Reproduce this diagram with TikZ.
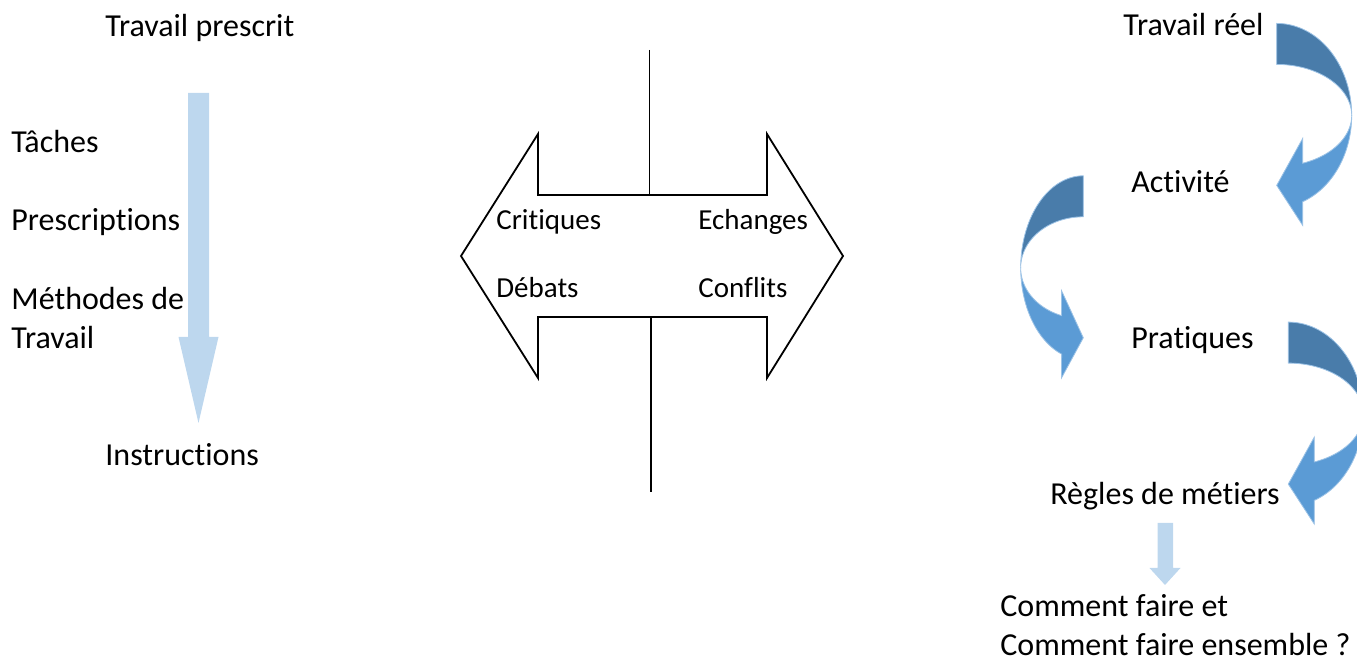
\documentclass[tikz,border=0pt]{standalone}
\usepackage{fontspec}
\setmainfont{Carlito}[Ligatures={NoCommon,NoContextual}]
\definecolor{pale}{HTML}{BDD7EE}
\definecolor{midblue}{HTML}{5B9BD5}
\definecolor{deepblue}{HTML}{497CAA}
% curved block arrow: #1 centre, #2 horizontal scale (negative = mirrored)
\newcommand\bentarrow[2]{%
  \begin{scope}[shift={#1},xscale=#2]
    \fill[deepblue,draw=midblue!60!white,line width=0.4pt] (0,-92)
      -- plot[domain=-90:0,samples=40] ({75*cos(\x)},{92*sin(\x)})
      -- plot[domain=0:-90,samples=40] ({75*cos(\x)},{51*sin(\x)}) -- cycle;
    \fill[midblue,draw=midblue!60!white,line width=0.4pt] (75,0)
      -- plot[domain=0:69.72,samples=40] ({75*cos(\x)},{92*sin(\x)})
      -- (26,110) -- (0,70) -- (26,23) -- (26,47.8)
      -- plot[domain=69.72:0,samples=40] ({75*cos(\x)},{51*sin(\x)}) -- cycle;
  \end{scope}}

\begin{document}
\begin{tikzpicture}[x=0.5pt,y=-0.5pt]
  \tikzset{lbl/.style={anchor=base west,inner sep=0pt,font=\fontsize{16}{19.5}\selectfont},
           sm/.style={anchor=base west,inner sep=0pt,font=\fontsize{14.5}{17}\selectfont}}
  \useasboundingbox (0,0) rectangle (1357,662);
  % prescribed work
  \fill[pale] (188,93) -- (209,93) -- (209,337) -- (218.5,337) -- (198.5,423)
    -- (178.5,337) -- (188,337) -- cycle;
  \node[lbl] (tp) at (105,37) {Travail prescrit};
  \node[lbl] (ta) at (11,153) {Tâches};
  \node[lbl] (pr) at (11,231) {Prescriptions};
  \node[lbl,align=left] (me) at (11,349) {Méthodes de\\Travail};
  \node[lbl] (in) at (105,466) {Instructions};
  % middle
  \draw[line width=0.9pt,fill=white] (461,256) -- (538,134) -- (538,195) -- (767,195)
    -- (767,134) -- (843,256) -- (767,378) -- (767,317) -- (538,317) -- (538,378) -- cycle;
  \draw[line width=0.9pt] (649.5,50) -- (649.5,195);
  \draw[line width=0.9pt] (650.7,317) -- (650.7,492);
  \node[sm] (cr) at (496,230) {Critiques};
  \node[sm] (ec) at (698,230) {Echanges};
  \node[sm] (de) at (496,298) {Débats};
  \node[sm] (co) at (698,298) {Conflits};
  % real work
  \bentarrow{(1276.7,115.4)}{1}
  \bentarrow{(1083.3,267.8)}{-0.835}
  \bentarrow{(1288.3,414.1)}{1}
  \node[lbl] (tr) at (1123,36) {Travail réel};
  \node[lbl] (ac) at (1131,193) {Activité};
  \node[lbl] (pq) at (1131,349) {Pratiques};
  \node[lbl] (rm) at (1050,505) {Règles de métiers};
  \fill[pale] (1157.5,523) -- (1173,523) -- (1173,568) -- (1180.5,568) -- (1165,585)
    -- (1149.5,568) -- (1157.5,568) -- cycle;
  \node[lbl,align=left] (cf) at (1000,656) {Comment faire et\\Comment faire ensemble ?};
\end{tikzpicture}
\end{document}
